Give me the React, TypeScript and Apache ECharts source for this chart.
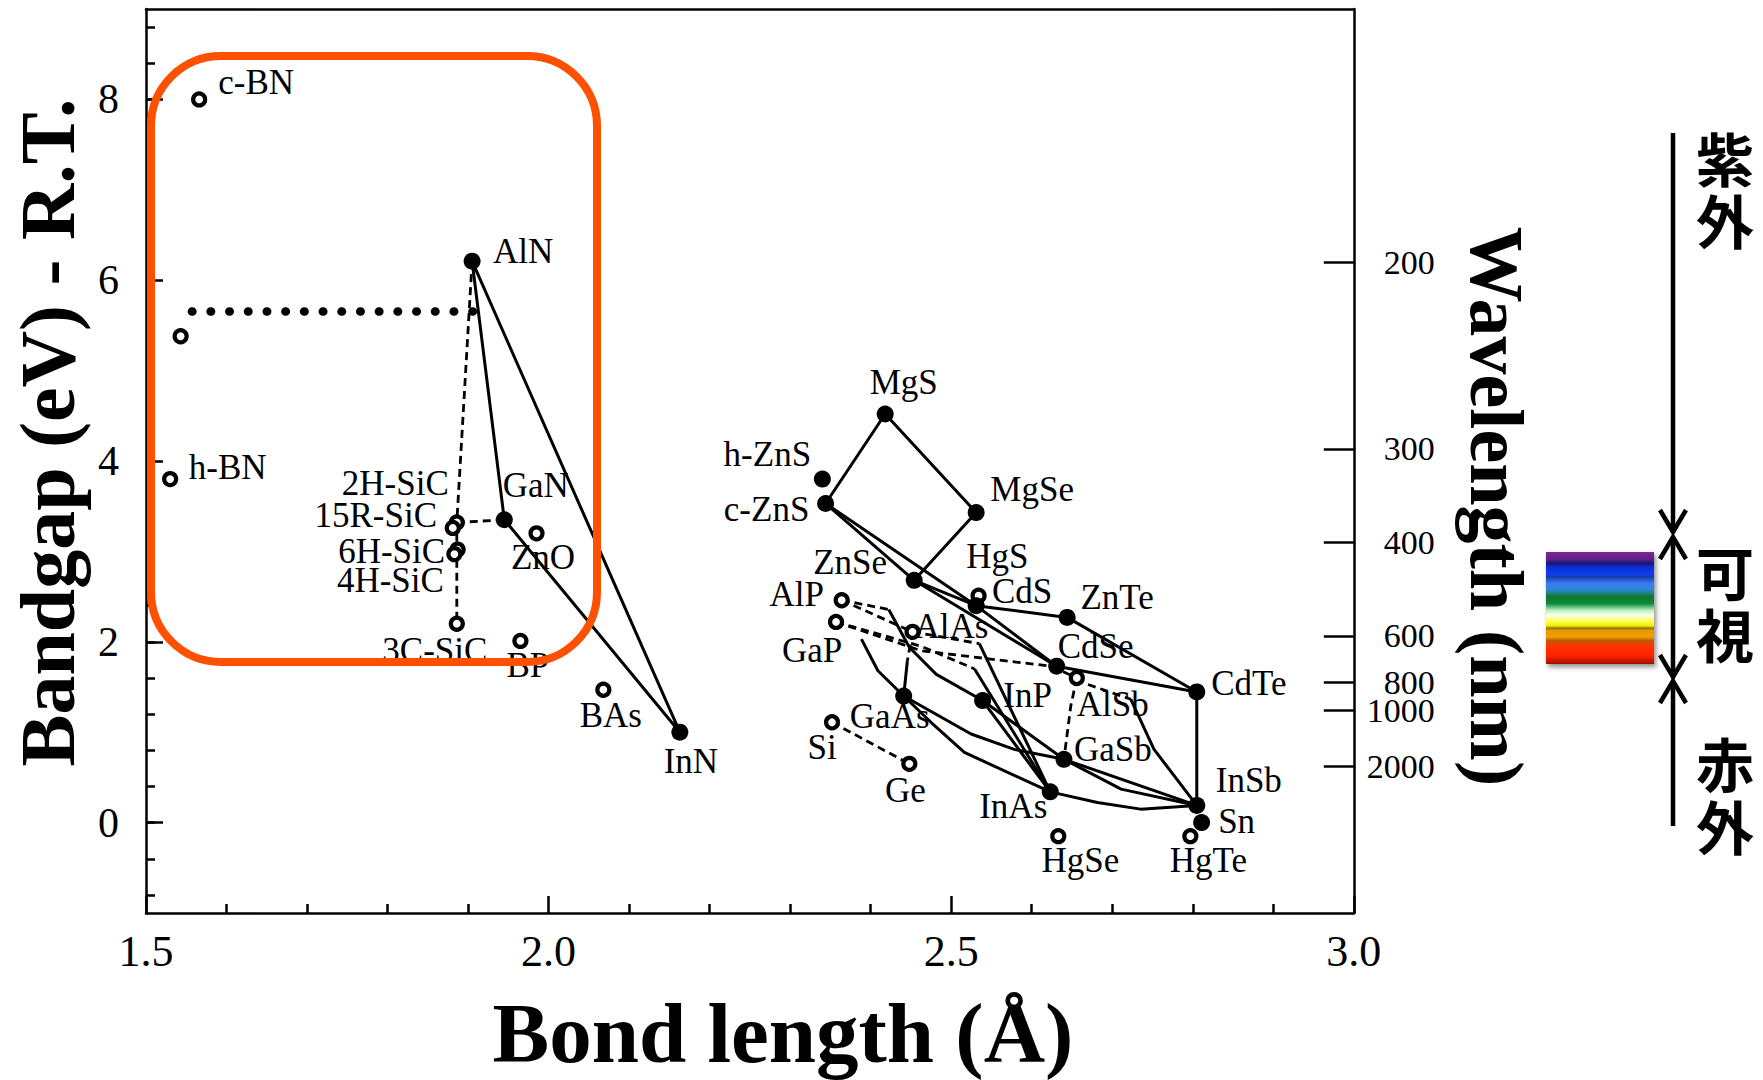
import React, { useEffect, useRef } from "react";
import * as echarts from "echarts";

const SERIF = "'Liberation Serif', 'Times New Roman', Times, serif";
const CJK = "'Noto Sans CJK JP', 'Noto Sans CJK SC', sans-serif";

// hollow markers (bond length Å, band gap eV)
const openNames = ["c-BN", "w-BN", "h-BN", "2H-SiC", "15R-SiC", "6H-SiC", "4H-SiC", "3C-SiC", "ZnO", "BP", "BAs", "AlP", "GaP", "AlAs", "Si", "Ge", "HgS", "AlSb", "HgSe", "HgTe"];
const openBond = [1.566, 1.543, 1.530, 1.886, 1.881, 1.887, 1.883, 1.886, 1.985, 1.965, 2.068, 2.364, 2.357, 2.452, 2.352, 2.448, 2.534, 2.656, 2.633, 2.797];
const openGap = [8.00, 5.38, 3.80, 3.32, 3.26, 3.02, 2.97, 2.20, 3.20, 2.01, 1.47, 2.46, 2.22, 2.11, 1.11, 0.65, 2.51, 1.60, -0.15, -0.15];

// filled markers
const filledNames = ["AlN", "GaN", "InN", "MgS", "h-ZnS", "c-ZnS", "MgSe", "ZnSe", "CdS", "ZnTe", "CdSe", "CdTe", "GaAs", "InP", "GaSb", "InAs", "InSb", "Sn"];
const filledBond = [1.905, 1.945, 2.163, 2.418, 2.340, 2.344, 2.531, 2.454, 2.531, 2.644, 2.631, 2.805, 2.441, 2.539, 2.640, 2.623, 2.805, 2.811];
const filledGap = [6.21, 3.35, 1.00, 4.52, 3.80, 3.53, 3.43, 2.68, 2.40, 2.27, 1.73, 1.445, 1.40, 1.35, 0.70, 0.34, 0.19, 0.00];

// tick labels
const xTickLabels = [1.5, 2.0, 2.5, 3.0];
const yTickLabels = [0, 2, 4, 6, 8];
const yMinorTicks = [-0.8, -0.4, 0, 0.4, 0.8, 1.2, 1.6, 2.0, 2.4, 2.8, 3.2, 3.6, 4.0, 4.4, 4.8, 5.2, 5.6, 6.0, 6.4, 6.8, 7.2, 7.6, 8.0, 8.4, 8.8];
const wavelengthTicks = [200, 300, 400, 600, 800, 1000, 2000];

type P = string | [number, number];

// connecting curves (names refer to markers, pairs are waypoints)
const solidLines: P[][] = [
  ["AlN", "GaN", "InN", "AlN"],
  ["c-ZnS", "MgS", "MgSe", "ZnSe"],
  ["c-ZnS", "ZnSe"],
  ["c-ZnS", "CdS", "CdSe"],
  ["ZnSe", "CdS", "ZnTe", "CdTe"],
  ["ZnSe", "CdSe", "CdTe"],
  ["CdTe", "InSb"],
  [[2.3885, 2.03], [2.409, 1.68], "GaAs"],
  [[2.4224, 2.358], [2.448, 1.94], [2.4815, 1.64], "InP"],
  [[2.535, 1.98], "InAs"],
  [[2.529, 1.70], "InAs"],
  [[2.4455, 1.785], "GaAs"],
  ["GaAs", [2.5247, 0.98], [2.5783, 0.81], "GaSb"],
  ["GaAs", [2.4752, 1.107], [2.5164, 0.776], "InAs"],
  ["InAs", [2.6816, 0.223], [2.7353, 0.149], "InSb"],
  ["GaSb", "InSb"],
  ["GaSb", [2.711, 0.37], "InSb"],
  ["InP", "GaSb"],
  ["InP", "InAs"],
  [[2.723, 1.365], [2.7517, 0.812], "InSb"],
];
const dashedLines: P[][] = [
  ["AlN", "2H-SiC", "3C-SiC"],
  ["2H-SiC", "GaN"],
  ["Si", "Ge"],
  ["AlP", "AlAs"],
  ["AlP", [2.4224, 2.358]],
  ["AlAs", [2.535, 1.98]],
  ["GaP", [2.463, 1.90], [2.624, 1.73], "AlSb"],
  ["GaP", [2.463, 1.95], [2.529, 1.70]],
  ["AlAs", [2.4455, 1.785]],
  ["AlSb", [2.6485, 1.29], "GaSb"],
  ["AlSb", [2.669, 1.53], [2.723, 1.365]],
];
const dottedLines: P[][] = [[[1.557, 5.655], [1.909, 5.655]]];

// label placement (pixel offsets of each label centre from its marker)
const labelOffsets: Record<string, [number, number]> = {
  "c-BN": [57, -16.5], "h-BN": [57.5, -12], AlN: [51, -10], GaN: [31.5, -34], InN: [11, 29],
  "2H-SiC": [-61.5, -39], "15R-SiC": [-77, -12.5], "6H-SiC": [-66, 2], "4H-SiC": [-64, 26], "3C-SiC": [-22, 27],
  ZnO: [6.5, 24], BP: [7.5, 25], BAs: [7.5, 26], MgS: [18.5, -31], "h-ZnS": [-55, -25], "c-ZnS": [-59, 6],
  MgSe: [56, -23], ZnSe: [-64, -18], HgS: [18.7, -38.7], CdS: [46, -14], AlP: [-45, -6], GaP: [-24, 29],
  AlAs: [39, -5], ZnTe: [50, -20], CdSe: [39, -20], CdTe: [52, -8], AlSb: [36, 27], InP: [45, -5],
  GaSb: [49, -10], InSb: [52, -25], Sn: [35, -1.5], HgTe: [18, 24], HgSe: [22, 24], InAs: [-37, 15],
  GaAs: [-14, 20], Si: [-10, 25], Ge: [-4, 27],
};

// band names beside the arrows
const bandChars: [string, number][] = [
  ["紫", 157], ["外", 219], ["可", 571], ["視", 633], ["赤", 762], ["外", 825],
];

export default function App() {
  const ref = useRef<HTMLDivElement>(null);
  useEffect(() => {
    document.body.style.margin = "0";
    const chart = echarts.init(ref.current!, undefined, { renderer: "svg" });

    const pts: Record<string, [number, number]> = {};
    openNames.forEach((n, i) => (pts[n] = [openBond[i], openGap[i]]));
    filledNames.forEach((n, i) => (pts[n] = [filledBond[i], filledGap[i]]));
    const resolve = (p: P): [number, number] => (typeof p === "string" ? pts[p] : p);

    const mkLines = (lines: P[][], type: any, width: number, cap: string) =>
      lines.map((l) => ({
        type: "line",
        data: l.map(resolve),
        symbol: "none",
        silent: true,
        z: 2,
        lineStyle: { color: "#000", width, type, cap },
      }));

    const mkItem = (n: string, x: number, y: number) => {
      const off = labelOffsets[n];
      return {
        name: n,
        value: [x, y],
        label: off
          ? {
              show: true,
              formatter: n,
              position: "inside",
              offset: off,
              align: "center",
              verticalAlign: "middle",
              color: "#000",
              fontSize: 35,
              lineHeight: 26,
              fontFamily: SERIF,
              textBorderWidth: 0,
            }
          : { show: false },
      };
    };

    const axisLineStyle = { color: "#000", width: 2.5 };
    const wlFormatter = (v: number) => {
      const w = 1240 / v;
      let best = wavelengthTicks[0];
      for (const t of wavelengthTicks) if (Math.abs(t - w) < Math.abs(best - w)) best = t;
      return String(best);
    };

    const chevron = (x: number, tipY: number, dir: number) => ({
      type: "polyline",
      shape: { points: [[x - 13, tipY - dir * 22], [x, tipY], [x + 13, tipY - dir * 22]] },
      style: { stroke: "#000", lineWidth: 4.5, fill: null },
      silent: true,
    });
    const vline = (x: number, y1: number, y2: number) => ({
      type: "line",
      shape: { x1: x, y1, x2: x, y2 },
      style: { stroke: "#000", lineWidth: 4.5 },
      silent: true,
    });
    const ax = 1673;

    chart.setOption({
      animation: false,
      backgroundColor: "#fff",
      grid: { left: 142.8, right: 409.2, top: 9, bottom: 166, containLabel: false },
      xAxis: [
        {
          type: "value",
          min: 1.5,
          max: 3.0,
          interval: 0.5,
          position: "bottom",
          axisLine: { show: true, onZero: false, lineStyle: axisLineStyle },
          axisTick: { show: true, inside: true, length: 17, lineStyle: axisLineStyle },
          minorTick: { show: true, splitNumber: 5, length: 9, lineStyle: axisLineStyle },
          axisLabel: {
            customValues: xTickLabels,
            formatter: (v: number) => v.toFixed(1),
            fontSize: 44,
            fontFamily: SERIF,
            color: "#000",
            margin: 16,
          },
          splitLine: { show: false },
          minorSplitLine: { show: false },
          name: "Bond length (Å)",
          nameLocation: "middle",
          nameGap: 77,
          nameMoveOverlap: false,
          nameTextStyle: { fontSize: 85, fontWeight: "bold", fontFamily: SERIF, color: "#000", padding: [0, 0, 0, 66] },
        },
        {
          type: "value",
          min: 1.5,
          max: 3.0,
          position: "top",
          axisLine: { show: true, onZero: false, lineStyle: axisLineStyle },
          axisTick: { show: false },
          axisLabel: { show: false },
          splitLine: { show: false },
        },
      ],
      yAxis: [
        {
          type: "value",
          min: -1,
          max: 9,
          position: "left",
          axisLine: { show: true, onZero: false, lineStyle: axisLineStyle },
          axisTick: { show: true, inside: true, length: 17, customValues: yTickLabels, lineStyle: axisLineStyle },
          axisLabel: { customValues: yTickLabels, fontSize: 42, fontFamily: SERIF, color: "#000", margin: 27 },
          splitLine: { show: false },
          name: "Bandgap (eV) - R.T.",
          nameLocation: "middle",
          nameGap: 60,
          nameRotate: 90,
          nameMoveOverlap: false,
          nameTextStyle: { fontSize: 78, fontWeight: "bold", fontFamily: SERIF, color: "#000", padding: [0, 0, 0, 57] },
        },
        {
          type: "value",
          min: -1,
          max: 9,
          position: "left",
          axisLine: { show: false },
          axisTick: { show: true, inside: true, length: 9, customValues: yMinorTicks, lineStyle: axisLineStyle },
          axisLabel: { show: false },
          splitLine: { show: false },
        },
        {
          type: "value",
          min: -1,
          max: 9,
          position: "right",
          axisLine: { show: true, onZero: false, lineStyle: axisLineStyle },
          axisTick: {
            show: true,
            inside: true,
            length: 30,
            customValues: wavelengthTicks.map((w) => 1240 / w),
            lineStyle: axisLineStyle,
          },
          axisLabel: {
            customValues: wavelengthTicks.map((w) => 1240 / w),
            formatter: wlFormatter,
            align: "right",
            margin: 81,
            fontSize: 34,
            fontFamily: SERIF,
            color: "#000",
          },
          splitLine: { show: false },
          name: "Wavelength (nm)",
          nameLocation: "middle",
          nameRotate: -90,
          nameGap: 105,
          nameMoveOverlap: false,
          nameTextStyle: { fontSize: 76, fontWeight: "bold", fontFamily: SERIF, color: "#000", padding: [0, 0, 0, 91] },
        },
      ],
      series: [
        ...mkLines(solidLines, "solid", 3, "butt"),
        ...mkLines(dashedLines, [8, 5], 2.8, "butt"),
        ...mkLines(dottedLines, [0.5, 18.2], 8.5, "round"),
        {
          type: "scatter",
          name: "open",
          symbol: "circle",
          symbolSize: 12,
          z: 3,
          itemStyle: { color: "#fff", borderColor: "#000", borderWidth: 4.2, opacity: 1 },
          data: openNames.map((n, i) => mkItem(n, openBond[i], openGap[i])),
        },
        {
          type: "scatter",
          name: "filled",
          symbol: "circle",
          symbolSize: 17,
          z: 3,
          itemStyle: { color: "#000", opacity: 1 },
          data: filledNames.map((n, i) => mkItem(n, filledBond[i], filledGap[i])),
        },
      ],
      graphic: [
        {
          type: "rect",
          shape: { x: 151, y: 56, width: 446, height: 606, r: 70 },
          style: { fill: null, stroke: "#ff4f00", lineWidth: 8 },
          z: 100,
          silent: true,
        },
        {
          type: "rect",
          shape: { x: 1546, y: 552, width: 108, height: 112 },
          style: {
            fill: {
              type: "linear",
              x: 0,
              y: 0,
              x2: 0,
              y2: 1,
              colorStops: [
                { offset: 0.0, color: "#7b2a8c" },
                { offset: 0.07, color: "#5c1f86" },
                { offset: 0.1, color: "#15186a" },
                { offset: 0.13, color: "#0a2ad0" },
                { offset: 0.2, color: "#1040f0" },
                { offset: 0.22, color: "#1a38a8" },
                { offset: 0.28, color: "#3a7af5" },
                { offset: 0.34, color: "#2a88d0" },
                { offset: 0.4, color: "#0c7a2a" },
                { offset: 0.46, color: "#0a8a3a" },
                { offset: 0.52, color: "#b8efb8" },
                { offset: 0.56, color: "#f4fff4" },
                { offset: 0.61, color: "#ffff66" },
                { offset: 0.66, color: "#f2ee00" },
                { offset: 0.68, color: "#8a7400" },
                { offset: 0.7, color: "#e09a00" },
                { offset: 0.76, color: "#f0a000" },
                { offset: 0.79, color: "#c05800" },
                { offset: 0.84, color: "#ff3300" },
                { offset: 0.93, color: "#ff2000" },
                { offset: 1.0, color: "#a01000" },
              ],
            },
            shadowBlur: 5,
            shadowColor: "rgba(0,0,0,0.45)",
            shadowOffsetX: 2,
            shadowOffsetY: 3,
          },
          silent: true,
        },
        vline(ax, 133, 531),
        chevron(ax, 532, 1),
        vline(ax, 538, 676),
        chevron(ax, 537, -1),
        chevron(ax, 677, 1),
        vline(ax, 682, 826),
        chevron(ax, 681, -1),
        ...bandChars.map(([c, y]) => ({
          type: "text",
          x: 1725,
          y,
          style: { text: c, fontSize: 58, lineHeight: 56, fontWeight: "bold", fontFamily: CJK, fill: "#000", align: "center", verticalAlign: "middle" },
          silent: true,
        })),
      ],
    });
    return () => chart.dispose();
  }, []);
  return <div ref={ref} style={{ position: "fixed", left: 0, top: 0, width: 1763, height: 1080 }} />;
}
